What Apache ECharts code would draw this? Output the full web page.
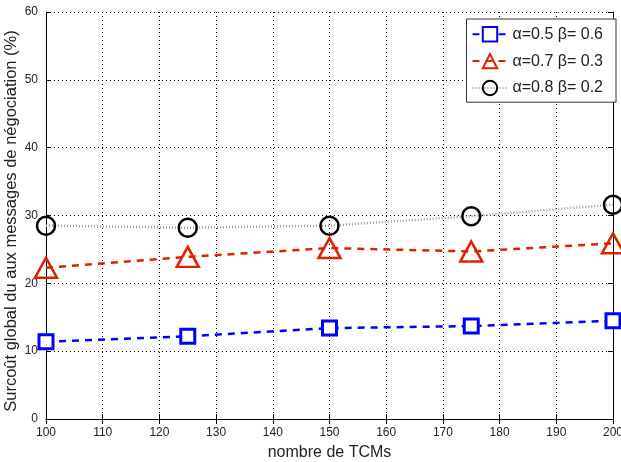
<!DOCTYPE html>
<html><head><meta charset="utf-8">
<script src="https://cdn.jsdelivr.net/npm/echarts@6/dist/echarts.min.js"></script>
<style>html,body{margin:0;padding:0;background:#fff}#c{width:621px;height:462px}</style>
</head><body><div id="c"></div>
<script>
const xValues = [100, 125, 150, 175, 200];
const seriesA = [11.4, 12.2, 13.4, 13.7, 14.5];
const seriesB = [22.3, 23.9, 25.2, 24.7, 25.9];
const seriesC = [28.5, 28.2, 28.5, 29.9, 31.6];
const names = ['α=0.5 β= 0.6', 'α=0.7 β= 0.3', 'α=0.8 β= 0.2'];
const xName = 'nombre de TCMs';
const yName = 'Surcoût global du aux messages de négociation (%)';

const pairs = arr => xValues.map((x, i) => [x, arr[i]]);
const chart = echarts.init(document.getElementById('c'));
const axisCommon = {
  axisLine: {show: true, lineStyle: {color: '#000', width: 1}},
  axisTick: {show: true, inside: true, length: 5, lineStyle: {color: '#000'}},
  axisLabel: {color: '#222', fontSize: 12, fontFamily: 'Liberation Sans'},
  splitLine: {show: true, lineStyle: {color: '#000', type: [1, 3], width: 1}}
};
chart.setOption({
  animation: false,
  grid: {left: 46, right: 8, top: 12, bottom: 43, containLabel: false, outerBoundsMode: 'none'},
  xAxis: [
    Object.assign({}, axisCommon, {type: 'value', min: 100, max: 200, interval: 10,
      name: xName, nameLocation: 'middle', nameGap: 26, nameMoveOverlap: false,
      nameTextStyle: {fontSize: 16, color: '#222', fontFamily: 'Liberation Sans'},
      axisLabel: {color: '#222', fontSize: 12, fontFamily: 'Liberation Sans', margin: 8}}),
    Object.assign({}, axisCommon, {type: 'value', min: 100, max: 200, interval: 10, position: 'top',
      axisLabel: {show: false}, splitLine: {show: false}})
  ],
  yAxis: [
    Object.assign({}, axisCommon, {type: 'value', min: 0, max: 60, interval: 10,
      name: yName, nameLocation: 'middle', nameGap: 26, nameMoveOverlap: false,
      nameTextStyle: {fontSize: 16.5, color: '#222', fontFamily: 'Liberation Sans', padding: [0, 11, 0, 0]},
      axisLabel: {color: '#222', fontSize: 12, fontFamily: 'Liberation Sans', margin: 8}}),
    Object.assign({}, axisCommon, {type: 'value', min: 0, max: 60, interval: 10, position: 'right',
      axisLabel: {show: false}, splitLine: {show: false}})
  ],
  legend: {
    right: 5, top: 19, orient: 'vertical', z: 10,
    backgroundColor: '#fff', borderColor: '#333', borderWidth: 1, borderRadius: 0,
    padding: [7, 13, 6, 5], itemGap: 10.5, itemWidth: 35, itemHeight: 18,
    textStyle: {fontSize: 16, color: '#222', fontFamily: 'Liberation Sans'},
    data: names
  },
  series: [
    {name: names[0], type: 'line', data: pairs(seriesA), symbol: 'rect', symbolSize: 14,
      color: '#0000ff',
      lineStyle: {color: '#0000ff', width: 2.5, type: [7, 6]},
      itemStyle: {color: '#fff', borderColor: '#0000ff', borderWidth: 3}},
    {name: names[1], type: 'line', data: pairs(seriesB), symbol: 'triangle', symbolSize: [22, 20],
      color: '#dd2200',
      lineStyle: {color: '#dd2200', width: 2.5, type: [7, 6]},
      itemStyle: {color: 'rgba(255,255,255,0)', borderColor: '#dd2200', borderWidth: 2.5}},
    {name: names[2], type: 'line', data: pairs(seriesC), symbol: 'circle', symbolSize: 18,
      color: '#000',
      lineStyle: {color: '#999', width: 2.5, type: [1, 2]},
      itemStyle: {color: 'rgba(255,255,255,0)', borderColor: '#000', borderWidth: 2.5}}
  ]
});
</script></body></html>
